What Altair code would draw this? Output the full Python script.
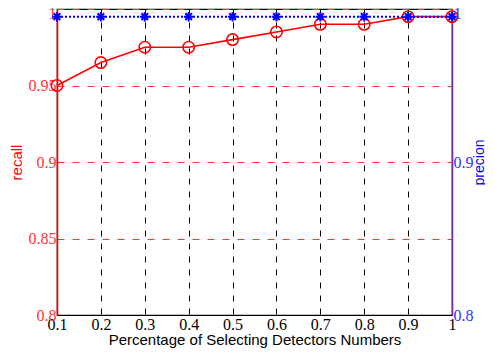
import altair as alt
import pandas as pd

pct = [0.1, 0.2, 0.3, 0.4, 0.5, 0.6, 0.7, 0.8, 0.9, 1.0]
recall = [0.95, 0.965, 0.975, 0.975, 0.98, 0.985, 0.99, 0.99, 0.995, 0.995]
precision = [0.995, 0.995, 0.995, 0.995, 0.995, 0.995, 0.995, 0.995, 0.995, 0.995]

df = pd.DataFrame({"pct": pct, "recall": recall, "precision": precision})

W, H = 395, 306
SERIF = "Liberation Serif, Times New Roman, Times, serif"
SANS = "Liberation Sans, Arial, Helvetica, sans-serif"
STAR = "M-1,0L1,0M0,-1L0,1M-0.7,-0.7L0.7,0.7M-0.7,0.7L0.7,-0.7"

top_off = {"condition": {"test": "datum.value >= 0.999", "value": 4}, "value": 0}

xenc = alt.X(
    "pct:Q",
    scale=alt.Scale(domain=[0.1, 1.0], nice=False, zero=False),
    axis=alt.Axis(
        values=pct, format=".1~f", title="Percentage of Selecting Detectors Numbers",
        labelFont=SERIF, labelFontSize=16, labelColor="black", labelPadding=1,
        titleFont=SANS, titleFontSize=15, titleFontWeight="normal", titleColor="black",
        titlePadding=0, ticks=False, domainColor="black", domainWidth=1.2,
        grid=True, gridColor="black", gridDash=[6, 7], gridOpacity=1, gridWidth=1,
        labelFlush=False, labelOverlap=False,
    ),
)

base = alt.Chart(df)

recall_line = base.mark_line(color="red", strokeWidth=1.6).encode(
    x=xenc,
    y=alt.Y(
        "recall:Q",
        scale=alt.Scale(domain=[0.8, 1.0], nice=False, zero=False),
        axis=alt.Axis(
            orient="left", values=[0.8, 0.85, 0.9, 0.95, 1.0], format=".2~f",
            title="recall", labelFont=SERIF, labelFontSize=16, labelColor="#ff3333",
            labelPadding=1, labelOffset=top_off,
            titleFont=SANS, titleFontSize=15, titleFontWeight="normal",
            titleColor="red", titleX=-41, titleY=H / 2, titleAngle=270,
            titleBaseline="middle", titleAlign="center",
            ticks=False, domainColor="red",
            domainWidth=1.6, grid=True, gridColor="#ff3333", gridDash=[7, 8],
            gridOpacity=1, gridWidth=1, labelFlush=False, labelOverlap=False,
        ),
    ),
)
recall_pts = base.mark_point(
    shape="circle", filled=False, color="red", size=130, strokeWidth=1.6, opacity=1
).encode(x="pct:Q", y="recall:Q")

prec_line = base.mark_line(color="blue", strokeWidth=2, strokeDash=[2, 2]).encode(
    x="pct:Q",
    y=alt.Y(
        "precision:Q",
        scale=alt.Scale(domain=[0.8, 1.0], nice=False, zero=False),
        axis=alt.Axis(
            orient="right", values=[0.8, 0.9, 1.0], format=".1~f", title="precion",
            labelFont=SERIF, labelFontSize=16, labelColor="#3333ff", labelPadding=1,
            labelOffset=top_off,
            titleFont=SANS, titleFontSize=14, titleFontWeight="normal", titleColor="blue",
            titleAngle=270, titleX=27, titleY=H / 2, titleBaseline="middle",
            titleAlign="center", ticks=False,
            domainColor="#7030a0",
            domainWidth=1.6, grid=False, labelFlush=False, labelOverlap=False,
        ),
    ),
)
prec_pts = base.mark_point(
    shape=STAR, filled=False, color="blue", size=90, strokeWidth=2, opacity=1
).encode(x="pct:Q", y="precision:Q")

left = alt.layer(recall_line, recall_pts)
right = alt.layer(prec_line, prec_pts)

chart = (
    alt.layer(left, right)
    .resolve_scale(y="independent")
    .properties(
        width=W, height=H, background="white",
        autosize=alt.AutoSizeParams(type="none"),
        padding={"left": 49, "top": 1, "right": 33, "bottom": 35},
    )
    .configure_view(stroke="black", strokeWidth=1.2)
)

chart.save("out.html", embed_options={"renderer": "svg", "actions": False})
